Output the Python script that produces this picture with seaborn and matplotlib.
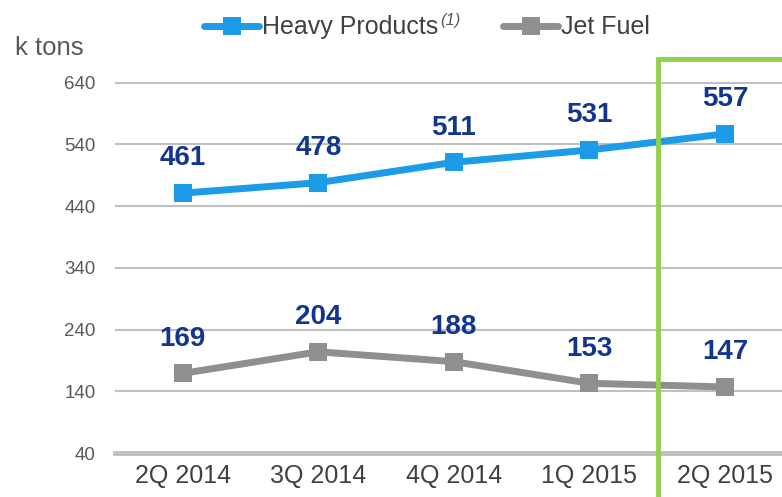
import numpy as np
import pandas as pd
import matplotlib.pyplot as plt
import seaborn as sns
from matplotlib.patches import Rectangle

quarters = ['2Q 2014', '3Q 2014', '4Q 2014', '1Q 2015', '2Q 2015']
heavy = [461, 478, 511, 531, 557]
jet = [169, 204, 188, 153, 147]
series_names = ['Heavy Products', 'Jet Fuel']
yticks = [40, 140, 240, 340, 440, 540, 640]

blue = '#1b9be8'
grey = '#8f8f8f'
navy = '#12368f'
green = '#92d050'

df = pd.DataFrame({
    'quarter': quarters * 2,
    'value': heavy + jet,
    'serie': [series_names[0]] * len(quarters) + [series_names[1]] * len(quarters),
})

sns.set_style('white')
plt.rcParams['font.family'] = ['Liberation Sans', 'DejaVu Sans']

fig = plt.figure(figsize=(7.82, 4.97), dpi=100)
ax = fig.add_axes([0.147, 0.0885, 0.853, 0.7948])

sns.lineplot(data=df, x='quarter', y='value', hue='serie', sort=False,
             palette=[blue, grey], marker='s', markersize=13, linewidth=5,
             markeredgewidth=0, legend=False, ax=ax)

ax.set_xlim(-0.5, 4.42)
ax.set_ylim(40, 680)
ax.set_yticks(yticks)
ax.grid(axis='y', color='#c0c0c0', linewidth=1.5)
ax.set_axisbelow(True)
for s in ['top', 'right', 'left']:
    ax.spines[s].set_visible(False)
ax.spines['bottom'].set_color('#c0c0c0')
ax.spines['bottom'].set_linewidth(3.5)
ax.tick_params(axis='y', length=0, pad=14, labelsize=13.5, labelcolor='#595959')
ax.tick_params(axis='x', length=0, pad=8, labelsize=18, labelcolor='#404040')
ax.set_xlabel('')
ax.set_ylabel('')

# valores em cima dos pontos
for vals in [heavy, jet]:
    for i, v in enumerate(vals):
        ax.annotate(str(v), (i, v), xytext=(0, 25), textcoords='offset points',
                    ha='center', va='center', fontsize=20, fontweight='bold', color=navy)

# destaque do ultimo trimestre
ax.add_patch(Rectangle((3.505, -60), 2, 739, fill=False, edgecolor=green,
                       linewidth=3.5, clip_on=False, zorder=5))

fig.text(0.019, 0.903, 'k tons', fontsize=18.5, color='#595959', va='center')

handles = [plt.Line2D([], [], color=blue, linewidth=5, marker='s', markersize=13, markeredgewidth=0),
           plt.Line2D([], [], color=grey, linewidth=5, marker='s', markersize=13, markeredgewidth=0)]
leg = fig.legend(handles, series_names, loc='center', bbox_to_anchor=(0.546, 0.945), ncol=2,
                 frameon=False, fontsize=18, handlelength=2.2, handletextpad=0.1,
                 columnspacing=2.6, labelcolor='#404040')

# nota (1) em italico
fig.canvas.draw()
bb = leg.get_texts()[0].get_window_extent().transformed(fig.transFigure.inverted())
fig.text(bb.x1 + 0.003, bb.y1 + 0.005, '(1)', fontsize=12, style='italic',
         color='#595959', ha='left', va='top')

fig.savefig('out.png', dpi=100)
